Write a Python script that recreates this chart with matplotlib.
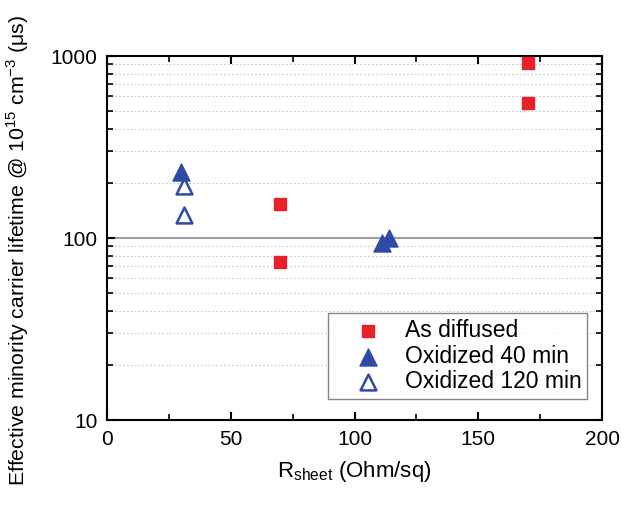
import matplotlib.pyplot as plt
import numpy as np
from matplotlib.ticker import LogLocator, NullFormatter, FixedLocator

plt.rcParams['font.family'] = ['Liberation Sans', 'DejaVu Sans']
plt.rcParams['mathtext.fontset'] = 'custom'
plt.rcParams['mathtext.rm'] = 'Liberation Sans'

# data
diff_x = [70, 70, 170, 170]
diff_y = [154, 74, 915, 552]
ox40_x = [30, 111, 114]
ox40_y = [231, 94, 100]
ox120_x = [31, 31]
ox120_y = [193, 134]

red = "#e8202a"
blue = "#2f49a6"

fig = plt.figure(figsize=(6.22, 5.05), dpi=100)
ax = fig.add_axes([0.172, 0.168, 0.796, 0.721])

ax.set_yscale('log')
ax.set_xlim(0, 200)
ax.set_ylim(10, 1000)

# grid: dotted minor lines, solid line at 100
for v in [20, 30, 40, 50, 60, 70, 80, 90, 200, 300, 400, 500, 600, 700, 800, 900]:
    ax.axhline(v, color="#cccccc", lw=0.8, ls=(0, (1.5, 2)), zorder=0)
ax.axhline(100, color="#a0a0a0", lw=1.5, zorder=0)

ax.scatter(diff_x, diff_y, marker='s', s=85, color=red, label="As diffused", zorder=3)
ax.scatter(ox40_x, ox40_y, marker='^', s=150, color=blue, label="Oxidized 40 min", zorder=3)
ax.scatter(ox120_x, ox120_y, marker='^', s=130, facecolors='white', edgecolors=blue,
           linewidths=1.8, label="Oxidized 120 min", zorder=3)

ax.xaxis.set_major_locator(FixedLocator([0, 50, 100, 150, 200]))
ax.xaxis.set_minor_locator(FixedLocator([25, 75, 125, 175]))
ax.yaxis.set_major_locator(FixedLocator([10, 100, 1000]))
ax.yaxis.set_minor_locator(LogLocator(base=10, subs=np.arange(2, 10)))
ax.yaxis.set_minor_formatter(NullFormatter())
ax.set_yticklabels(["10", "100", "1000"])

ax.tick_params(which='both', direction='in', top=True, right=True, labelsize=15, pad=7)
ax.tick_params(which='major', length=6, width=1.5)
ax.tick_params(which='minor', length=4, width=1.2)
for sp in ax.spines.values():
    sp.set_linewidth(1.5)

ax.set_xlabel("R$_{\\mathregular{sheet}}$ (Ohm/sq)", fontsize=16, labelpad=7)
ax.set_ylabel("Effective minority carrier lifetime @ 10$^{\\mathregular{15}}$ cm$^{\\mathregular{-3}}$ (μs)",
              fontsize=15.3)
ax.yaxis.set_label_coords(-0.153, 0.467)

leg = ax.legend(loc='lower right', fontsize=16.5, frameon=True, fancybox=False,
                edgecolor='#666666', borderpad=0.25, labelspacing=0.12, handlelength=3.0,
                handletextpad=0.1, borderaxespad=0, bbox_to_anchor=(0.970, 0.058))
leg.get_frame().set_linewidth(1.0)

fig.savefig("out.png", dpi=100)
